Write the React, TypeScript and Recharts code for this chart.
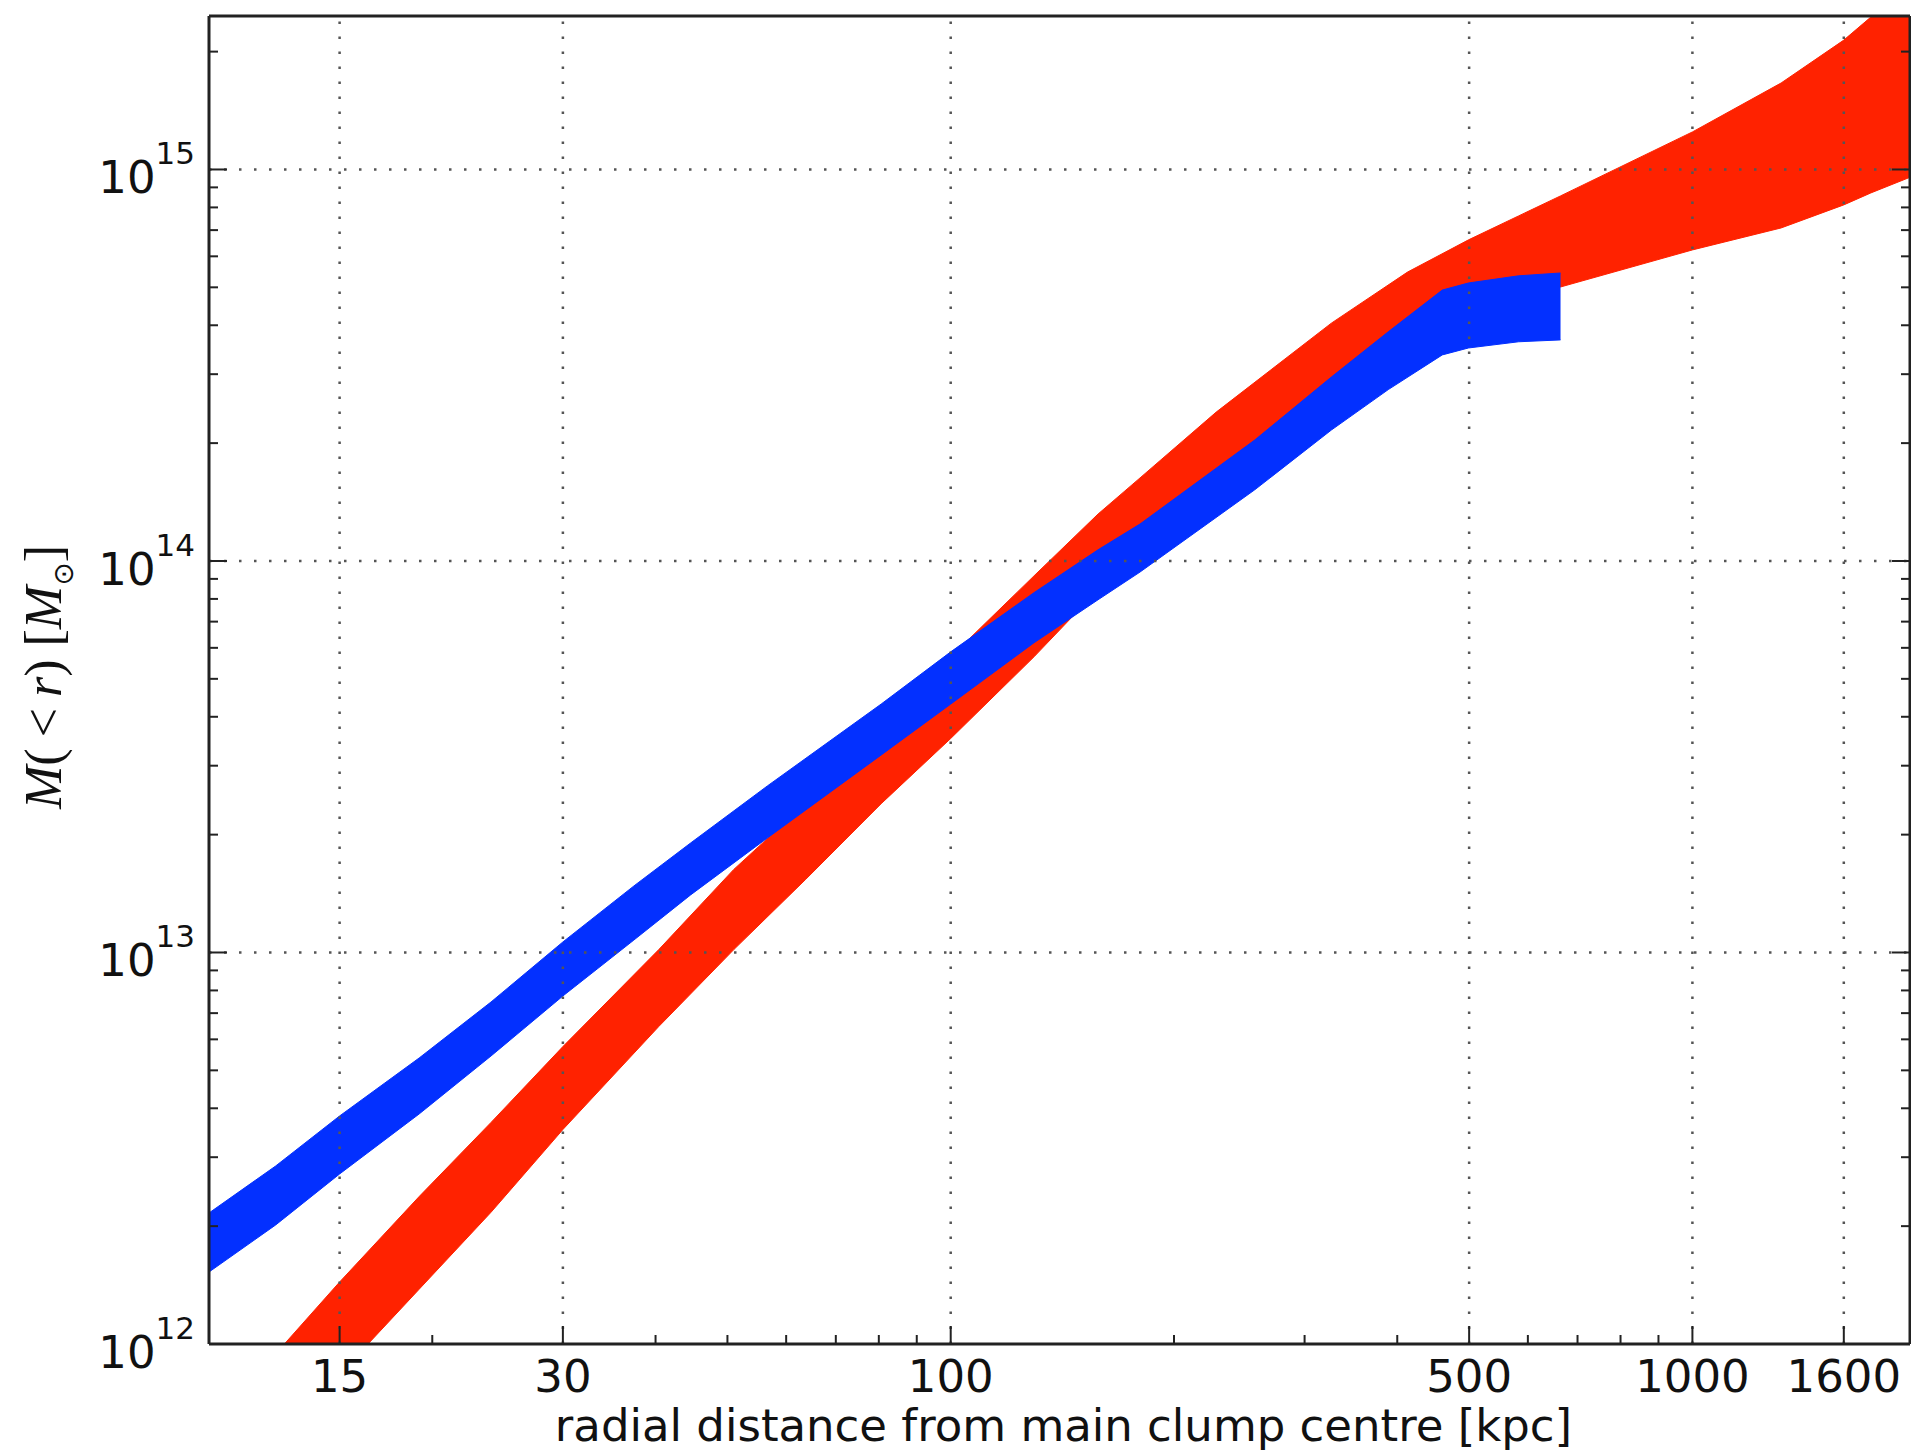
import React from 'react';
import { ComposedChart, Area, XAxis, YAxis, ReferenceLine } from 'recharts';

// ---- data (kpc, solar masses) ----
const redRadius = [11.4, 15, 19.2, 24, 30, 40.4, 51, 63.7, 80.6, 100, 129.5, 158, 180, 228, 326, 413, 499, 583, 664, 1000, 1317, 1600, 1740, 2000];
const redLower = [4.7e11, 8.36e11, 1.38e12, 2.17e12, 3.53e12, 6.47e12, 1.017e13, 1.535e13, 2.4e13, 3.52e13, 5.69e13, 8.44e13, 1.037e14, 1.476e14, 2.53e14, 3.5e14, 4.33e14, 4.73e14, 5.01e14, 6.23e14, 7.09e14, 8.12e14, 8.71e14, 9.68e14];
const redUpper = [8.03e11, 1.44e12, 2.38e12, 3.68e12, 5.75e12, 1.017e13, 1.63e13, 2.4e13, 3.72e13, 5.69e13, 9.16e13, 1.318e14, 1.63e14, 2.4e14, 4.05e14, 5.47e14, 6.61e14, 7.61e14, 8.56e14, 1.247e15, 1.663e15, 2.14e15, 2.45e15, 3.0e15];

const blueRadius = [10, 12.3, 15, 19.2, 24, 30, 37.4, 44.6, 56.6, 80.6, 100, 129.5, 158, 180, 257, 326, 389, 460, 499, 583, 664];
const blueLower = [1.527e12, 2.014e12, 2.718e12, 3.868e12, 5.44e12, 7.742e12, 1.076e13, 1.403e13, 1.961e13, 3.195e13, 4.31e13, 6.18e13, 7.96e13, 9.37e13, 1.52e14, 2.16e14, 2.74e14, 3.36e14, 3.5e14, 3.63e14, 3.67e14];
const blueUpper = [2.161e12, 2.849e12, 3.823e12, 5.377e12, 7.474e12, 1.064e13, 1.479e13, 1.904e13, 2.663e13, 4.312e13, 5.86e13, 8.3e13, 1.068e14, 1.243e14, 2.037e14, 2.95e14, 3.85e14, 4.92e14, 5.13e14, 5.35e14, 5.44e14];

// ---- ticks ----
const xMajorTicks = [15, 30, 100, 500, 1000, 1600];
const xTickLabels = ['15', '30', '100', '500', '1000', '1600'];
const xMinorTicks = [20, 40, 50, 60, 70, 80, 90, 200, 300, 400, 600, 700, 800, 900];
const yMajorTicks = [1e12, 1e13, 1e14, 1e15];
const yTickExponents = ['12', '13', '14', '15'];
const yMinorTicks = [
  2e12, 3e12, 4e12, 5e12, 6e12, 7e12, 8e12, 9e12,
  2e13, 3e13, 4e13, 5e13, 6e13, 7e13, 8e13, 9e13,
  2e14, 3e14, 4e14, 5e14, 6e14, 7e14, 8e14, 9e14,
  2e15,
];
const gridX = [15, 30, 100, 500, 1000, 1600];
const gridY = [1e13, 1e14, 1e15];

const X_DOMAIN: [number, number] = [10, 1965];
const Y_DOMAIN: [number, number] = [1e12, 2.466e15];

const redData = redRadius.map((r, i) => ({ r, band: [redLower[i], redUpper[i]] }));
const blueData = blueRadius.map((r, i) => ({ r, band: [blueLower[i], blueUpper[i]] }));

const xTicksAll = [...xMajorTicks, ...xMinorTicks].sort((a, b) => a - b);
const yTicksAll = [...yMajorTicks, ...yMinorTicks].sort((a, b) => a - b);

const AXIS = '#222';
const TEXT = '#111';
const MAJOR_LEN = 18;
const MINOR_LEN = 9;
const SANS = 'DejaVu Sans';

const findIdx = (arr: number[], v: number) => arr.findIndex((m) => Math.abs(m - v) <= m * 1e-9);

function BottomTick(props: any) {
  const { x, y, payload } = props;
  const idx = findIdx(xMajorTicks, payload.value);
  const len = idx >= 0 ? MAJOR_LEN : MINOR_LEN;
  return (
    <g>
      <line x1={x} x2={x} y1={y} y2={y - len} stroke={AXIS} strokeWidth={2} />
      {idx >= 0 && (
        <text x={x} y={y + 48} textAnchor="middle" fontFamily={SANS} fontSize={45} fill={TEXT}>
          {xTickLabels[idx]}
        </text>
      )}
    </g>
  );
}

function TopTick(props: any) {
  const { x, y, payload } = props;
  const idx = findIdx(xMajorTicks, payload.value);
  const len = idx >= 0 ? MAJOR_LEN : MINOR_LEN;
  return <line x1={x} x2={x} y1={y} y2={y + len} stroke={AXIS} strokeWidth={2} />;
}

function LeftTick(props: any) {
  const { x, y, payload } = props;
  const idx = findIdx(yMajorTicks, payload.value);
  const len = idx >= 0 ? MAJOR_LEN : MINOR_LEN;
  return (
    <g>
      <line x1={x} x2={x + len} y1={y} y2={y} stroke={AXIS} strokeWidth={2} />
      {idx >= 0 && (
        <text x={x - 14} y={y + 24} textAnchor="end" fontFamily={SANS} fontSize={45} fill={TEXT}>
          <tspan>10</tspan>
          <tspan dy={-29} fontSize={31}>{yTickExponents[idx]}</tspan>
        </text>
      )}
    </g>
  );
}

function RightTick(props: any) {
  const { x, y, payload } = props;
  const idx = findIdx(yMajorTicks, payload.value);
  const len = idx >= 0 ? MAJOR_LEN : MINOR_LEN;
  return <line x1={x} x2={x - len} y1={y} y2={y} stroke={AXIS} strokeWidth={2} />;
}

function XLabel(props: any) {
  const vb = props.viewBox || { x: 209, y: 1344, width: 1701, height: 110 };
  return (
    <text x={vb.x + vb.width / 2 + 4} y={vb.y + 97} textAnchor="middle" fontFamily={SANS} fontSize={45} fill={TEXT}>
      radial distance from main clump centre [kpc]
    </text>
  );
}

function YLabel(props: any) {
  const vb = props.viewBox || { x: 0, y: 16, width: 209, height: 1328 };
  const cx = vb.x + 61;
  const cy = vb.y + vb.height / 2 - 3;
  return (
    <text transform={`translate(${cx},${cy}) rotate(-90)`} textAnchor="middle" fontFamily="Liberation Serif" fontSize={52} fill={TEXT}>
      <tspan fontStyle="italic">M</tspan>
      <tspan>(</tspan>
      <tspan dx={11}>{'<'}</tspan>
      <tspan dx={11} fontStyle="italic">r</tspan>
      <tspan>)</tspan>
      <tspan dx={13}>[</tspan>
      <tspan fontStyle="italic">M</tspan>
      <tspan fontFamily={SANS} fontSize={28} dy={12}>{'\u2299'}</tspan>
      <tspan dy={-12}>]</tspan>
    </text>
  );
}

export default function App() {
  return (
    <div style={{ position: 'absolute', left: 0, top: 0, width: 1911, height: 1454, background: '#ffffff', overflow: 'hidden' }}>
      <ComposedChart width={1911} height={1454} margin={{ top: 0, right: 0, bottom: 0, left: 0 }}>
        <XAxis
          xAxisId={0}
          type="number"
          dataKey="r"
          scale="log"
          domain={X_DOMAIN}
          allowDataOverflow
          ticks={xTicksAll}
          interval={0}
          tickSize={0}
          tickMargin={0}
          tickLine={false}
          tick={(p: any) => <BottomTick {...p} />}
          axisLine={{ stroke: AXIS, strokeWidth: 3 }}
          height={110}
          label={(p: any) => <XLabel {...p} />}
        />
        <XAxis
          xAxisId="top"
          orientation="top"
          type="number"
          scale="log"
          domain={X_DOMAIN}
          allowDataOverflow
          ticks={xTicksAll}
          interval={0}
          tickSize={0}
          tickMargin={0}
          tickLine={false}
          tick={(p: any) => <TopTick {...p} />}
          axisLine={{ stroke: AXIS, strokeWidth: 3 }}
          height={16}
        />
        <YAxis
          yAxisId={0}
          type="number"
          scale="log"
          domain={Y_DOMAIN}
          allowDataOverflow
          ticks={yTicksAll}
          interval={0}
          tickSize={0}
          tickMargin={0}
          tickLine={false}
          tick={(p: any) => <LeftTick {...p} />}
          axisLine={{ stroke: AXIS, strokeWidth: 3 }}
          width={209}
          label={(p: any) => <YLabel {...p} />}
        />
        <YAxis
          yAxisId="right"
          orientation="right"
          type="number"
          scale="log"
          domain={Y_DOMAIN}
          allowDataOverflow
          ticks={yTicksAll}
          interval={0}
          tickSize={0}
          tickMargin={0}
          tickLine={false}
          tick={(p: any) => <RightTick {...p} />}
          axisLine={{ stroke: AXIS, strokeWidth: 3 }}
          width={1}
        />
        <Area
          xAxisId={0}
          yAxisId={0}
          data={redData}
          dataKey="band"
          type="linear"
          fill="#ff2200"
          fillOpacity={1}
          stroke="#ff2200"
          strokeWidth={1}
          dot={false}
          activeDot={false}
          isAnimationActive={false}
        />
        <Area
          xAxisId={0}
          yAxisId={0}
          data={blueData}
          dataKey="band"
          type="linear"
          fill="#0330ff"
          fillOpacity={1}
          stroke="#0330ff"
          strokeWidth={1}
          dot={false}
          activeDot={false}
          isAnimationActive={false}
        />
        {gridX.map((v) => (
          <ReferenceLine key={`gx${v}`} x={v} xAxisId={0} yAxisId={0} stroke="#555" strokeWidth={2.5} strokeDasharray="2.5 12.5" zIndex={450} />
        ))}
        {gridY.map((v) => (
          <ReferenceLine key={`gy${v}`} y={v} xAxisId={0} yAxisId={0} stroke="#555" strokeWidth={2.5} strokeDasharray="2.5 12.5" zIndex={450} />
        ))}
      </ComposedChart>
    </div>
  );
}
